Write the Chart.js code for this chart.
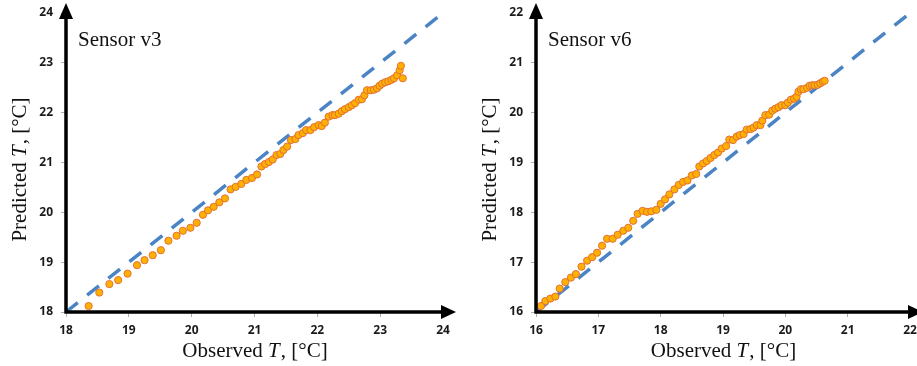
<!DOCTYPE html>
<html>
<head>
<meta charset="utf-8">
<script src="https://cdn.jsdelivr.net/npm/chart.js@4.4.0/dist/chart.umd.min.js"></script>
<style>
  html, body { margin: 0; padding: 0; background: #fff; }
  .panel { position: absolute; top: 0; }
</style>
</head>
<body>
<div class="panel" style="left:0;"><canvas id="chart-v3" width="458" height="366"></canvas></div>
<div class="panel" style="left:470px;"><canvas id="chart-v6" width="447" height="366"></canvas></div>
<script>
// Sensor v3: observed vs predicted temperature
const v3Observed = [18.36, 18.53, 18.69, 18.83, 18.98, 19.13, 19.25, 19.38, 19.51, 19.63, 19.76, 19.86, 19.98, 20.08, 20.18, 20.26, 20.35, 20.44, 20.53, 20.62, 20.70, 20.79, 20.87, 20.96, 21.04, 21.11, 21.17, 21.23, 21.29, 21.35, 21.41, 21.46, 21.52, 21.58, 21.65, 21.70, 21.77, 21.82, 21.89, 21.95, 22.02, 22.07, 22.12, 22.18, 22.24, 22.28, 22.34, 22.39, 22.44, 22.50, 22.55, 22.60, 22.66, 22.71, 22.75, 22.79, 22.85, 22.90, 22.95, 22.99, 23.03, 23.08, 23.13, 23.18, 23.22, 23.27, 23.31, 23.33, 23.36];
const v3Predicted = [18.12, 18.39, 18.56, 18.64, 18.77, 18.94, 19.04, 19.14, 19.24, 19.43, 19.53, 19.63, 19.69, 19.79, 19.95, 20.04, 20.11, 20.20, 20.28, 20.46, 20.51, 20.57, 20.65, 20.69, 20.76, 20.92, 20.97, 21.01, 21.06, 21.15, 21.17, 21.25, 21.32, 21.45, 21.47, 21.55, 21.59, 21.65, 21.65, 21.71, 21.75, 21.73, 21.80, 21.92, 21.95, 21.95, 21.98, 22.03, 22.07, 22.11, 22.15, 22.19, 22.26, 22.27, 22.35, 22.45, 22.45, 22.46, 22.49, 22.54, 22.58, 22.61, 22.63, 22.66, 22.69, 22.75, 22.85, 22.94, 22.69];

// Sensor v6
const v6Observed = [16.08, 16.15, 16.23, 16.31, 16.38, 16.47, 16.56, 16.64, 16.73, 16.82, 16.90, 16.98, 17.06, 17.14, 17.23, 17.31, 17.40, 17.48, 17.56, 17.63, 17.71, 17.78, 17.85, 17.93, 18.00, 18.07, 18.14, 18.22, 18.29, 18.36, 18.43, 18.50, 18.57, 18.62, 18.68, 18.74, 18.80, 18.86, 18.92, 18.98, 19.05, 19.10, 19.16, 19.22, 19.27, 19.33, 19.38, 19.44, 19.49, 19.54, 19.60, 19.63, 19.68, 19.74, 19.79, 19.84, 19.89, 19.94, 20.00, 20.04, 20.09, 20.14, 20.18, 20.21, 20.25, 20.29, 20.35, 20.39, 20.43, 20.47, 20.52, 20.56, 20.60, 20.63];
const v6Predicted = [16.12, 16.22, 16.27, 16.31, 16.47, 16.60, 16.69, 16.76, 16.91, 17.03, 17.10, 17.19, 17.33, 17.47, 17.47, 17.55, 17.63, 17.69, 17.83, 17.97, 18.03, 18.01, 18.02, 18.05, 18.17, 18.26, 18.36, 18.46, 18.55, 18.61, 18.64, 18.74, 18.77, 18.92, 18.98, 19.03, 19.09, 19.15, 19.20, 19.28, 19.33, 19.46, 19.45, 19.52, 19.55, 19.57, 19.66, 19.67, 19.70, 19.75, 19.75, 19.84, 19.95, 19.96, 20.04, 20.08, 20.11, 20.15, 20.15, 20.20, 20.26, 20.28, 20.32, 20.42, 20.47, 20.47, 20.50, 20.54, 20.55, 20.55, 20.56, 20.59, 20.62, 20.64];

// axis ranges and the y = x reference line
const v3Range = [18, 24];
const v6Range = [16, 22];
const v3Title = 'Sensor v3';
const v6Title = 'Sensor v6';

const serif = '"Liberation Serif", "DejaVu Serif", serif';

// draws "Observed T, [°C]" with an italic T, centred on (0,0) of the current transform
function drawMixedTitle(ctx, prefix, suffix) {
  const size = 21;
  const roman = `${size}px ${serif}`;
  const italic = `italic ${size}px ${serif}`;
  ctx.font = roman;
  const w1 = ctx.measureText(prefix).width;
  const w3 = ctx.measureText(suffix).width;
  ctx.font = italic;
  const w2 = ctx.measureText('T').width;
  let x = -(w1 + w2 + w3) / 2;
  ctx.textBaseline = 'middle';
  ctx.textAlign = 'left';
  ctx.fillStyle = '#111';
  ctx.font = roman; ctx.fillText(prefix, x, 0); x += w1;
  ctx.font = italic; ctx.fillText('T', x, 0); x += w2 + 1;
  ctx.font = roman; ctx.fillText(suffix, x, 0);
}

const decorPlugin = {
  id: 'decor',
  afterDraw(chart, args, opts) {
    const { ctx, chartArea: a } = chart;
    ctx.save();
    // axis arrows
    ctx.strokeStyle = '#000';
    ctx.fillStyle = '#000';
    ctx.lineWidth = 3.5;
    ctx.beginPath();
    ctx.moveTo(a.left, a.bottom + 1.5);
    ctx.lineTo(a.left, a.top - 4);
    ctx.moveTo(a.left - 1.5, a.bottom);
    ctx.lineTo(a.right + 4, a.bottom);
    ctx.stroke();
    ctx.beginPath();
    ctx.moveTo(a.left, a.top - 10);
    ctx.lineTo(a.left - 7, a.top + 6);
    ctx.lineTo(a.left + 7, a.top + 6);
    ctx.closePath();
    ctx.fill();
    ctx.beginPath();
    ctx.moveTo(a.right + 13, a.bottom);
    ctx.lineTo(a.right - 2, a.bottom - 7);
    ctx.lineTo(a.right - 2, a.bottom + 7);
    ctx.closePath();
    ctx.fill();

    // panel title
    ctx.font = `21px ${serif}`;
    ctx.fillStyle = '#111';
    ctx.textAlign = 'left';
    ctx.textBaseline = 'middle';
    ctx.fillText(opts.title, a.left + 12, 40);

    // x axis title
    ctx.save();
    ctx.translate((a.left + a.right) / 2, 351);
    drawMixedTitle(ctx, 'Observed ', ', [°C]');
    ctx.restore();

    // y axis title
    ctx.save();
    ctx.translate(opts.yTitleX, 170);
    ctx.rotate(-Math.PI / 2);
    drawMixedTitle(ctx, 'Predicted ', ', [°C]');
    ctx.restore();
    ctx.restore();
  },
};

function buildChart(canvas, range, observed, predicted, title, padRight, yTitleX) {
  const tickFont = { family: '"Open Sans", "DejaVu Sans", sans-serif', size: 12, weight: 'bold' };
  const fixPad = (s) => { s.paddingLeft = 0; s.paddingRight = 0; s.paddingTop = 0; s.paddingBottom = 0; };
  return new Chart(canvas, {
    type: 'scatter',
    data: {
      datasets: [
        {
          label: 'Measurements',
          data: observed.map((x, i) => ({ x, y: predicted[i] })),
          backgroundColor: '#FFB100',
          borderColor: '#E2703A',
          borderWidth: 1,
          pointRadius: 3.6,
          order: 1,
          clip: false,
        },
        {
          type: 'line',
          label: 'y = x',
          data: range.map((v) => ({ x: v, y: v })),
          borderColor: '#4A84C4',
          borderWidth: 3.5,
          borderDash: [15, 12],
          pointRadius: 0,
          fill: false,
          order: 2,
          clip: false,
        },
      ],
    },
    options: {
      responsive: false,
      animation: false,
      devicePixelRatio: 1,
      layout: { padding: { left: 0, right: padRight, top: 13, bottom: 0 } },
      plugins: {
        legend: { display: false },
        tooltip: { enabled: false },
        decor: { title, yTitleX },
      },
      scales: {
        x: {
          type: 'linear',
          min: range[0],
          max: range[1],
          ticks: { stepSize: 1, font: tickFont, color: '#1a1a1a', padding: 6 },
          grid: { drawOnChartArea: false, color: '#b0b0b0', tickLength: 5 },
          border: { display: false },
          afterFit: (s) => { s.height = 54; fixPad(s); },
        },
        y: {
          type: 'linear',
          min: range[0],
          max: range[1],
          ticks: { stepSize: 1, font: tickFont, color: '#1a1a1a', padding: 8 },
          grid: { drawOnChartArea: false, color: '#b0b0b0', tickLength: 5 },
          border: { display: false },
          afterFit: (s) => { s.width = 66; fixPad(s); },
        },
      },
    },
    plugins: [decorPlugin],
  });
}

buildChart(document.getElementById('chart-v3'), v3Range, v3Observed, v3Predicted, v3Title, 15, 20);
buildChart(document.getElementById('chart-v6'), v6Range, v6Observed, v6Predicted, v6Title, 7, 20);
</script>
</body>
</html>
